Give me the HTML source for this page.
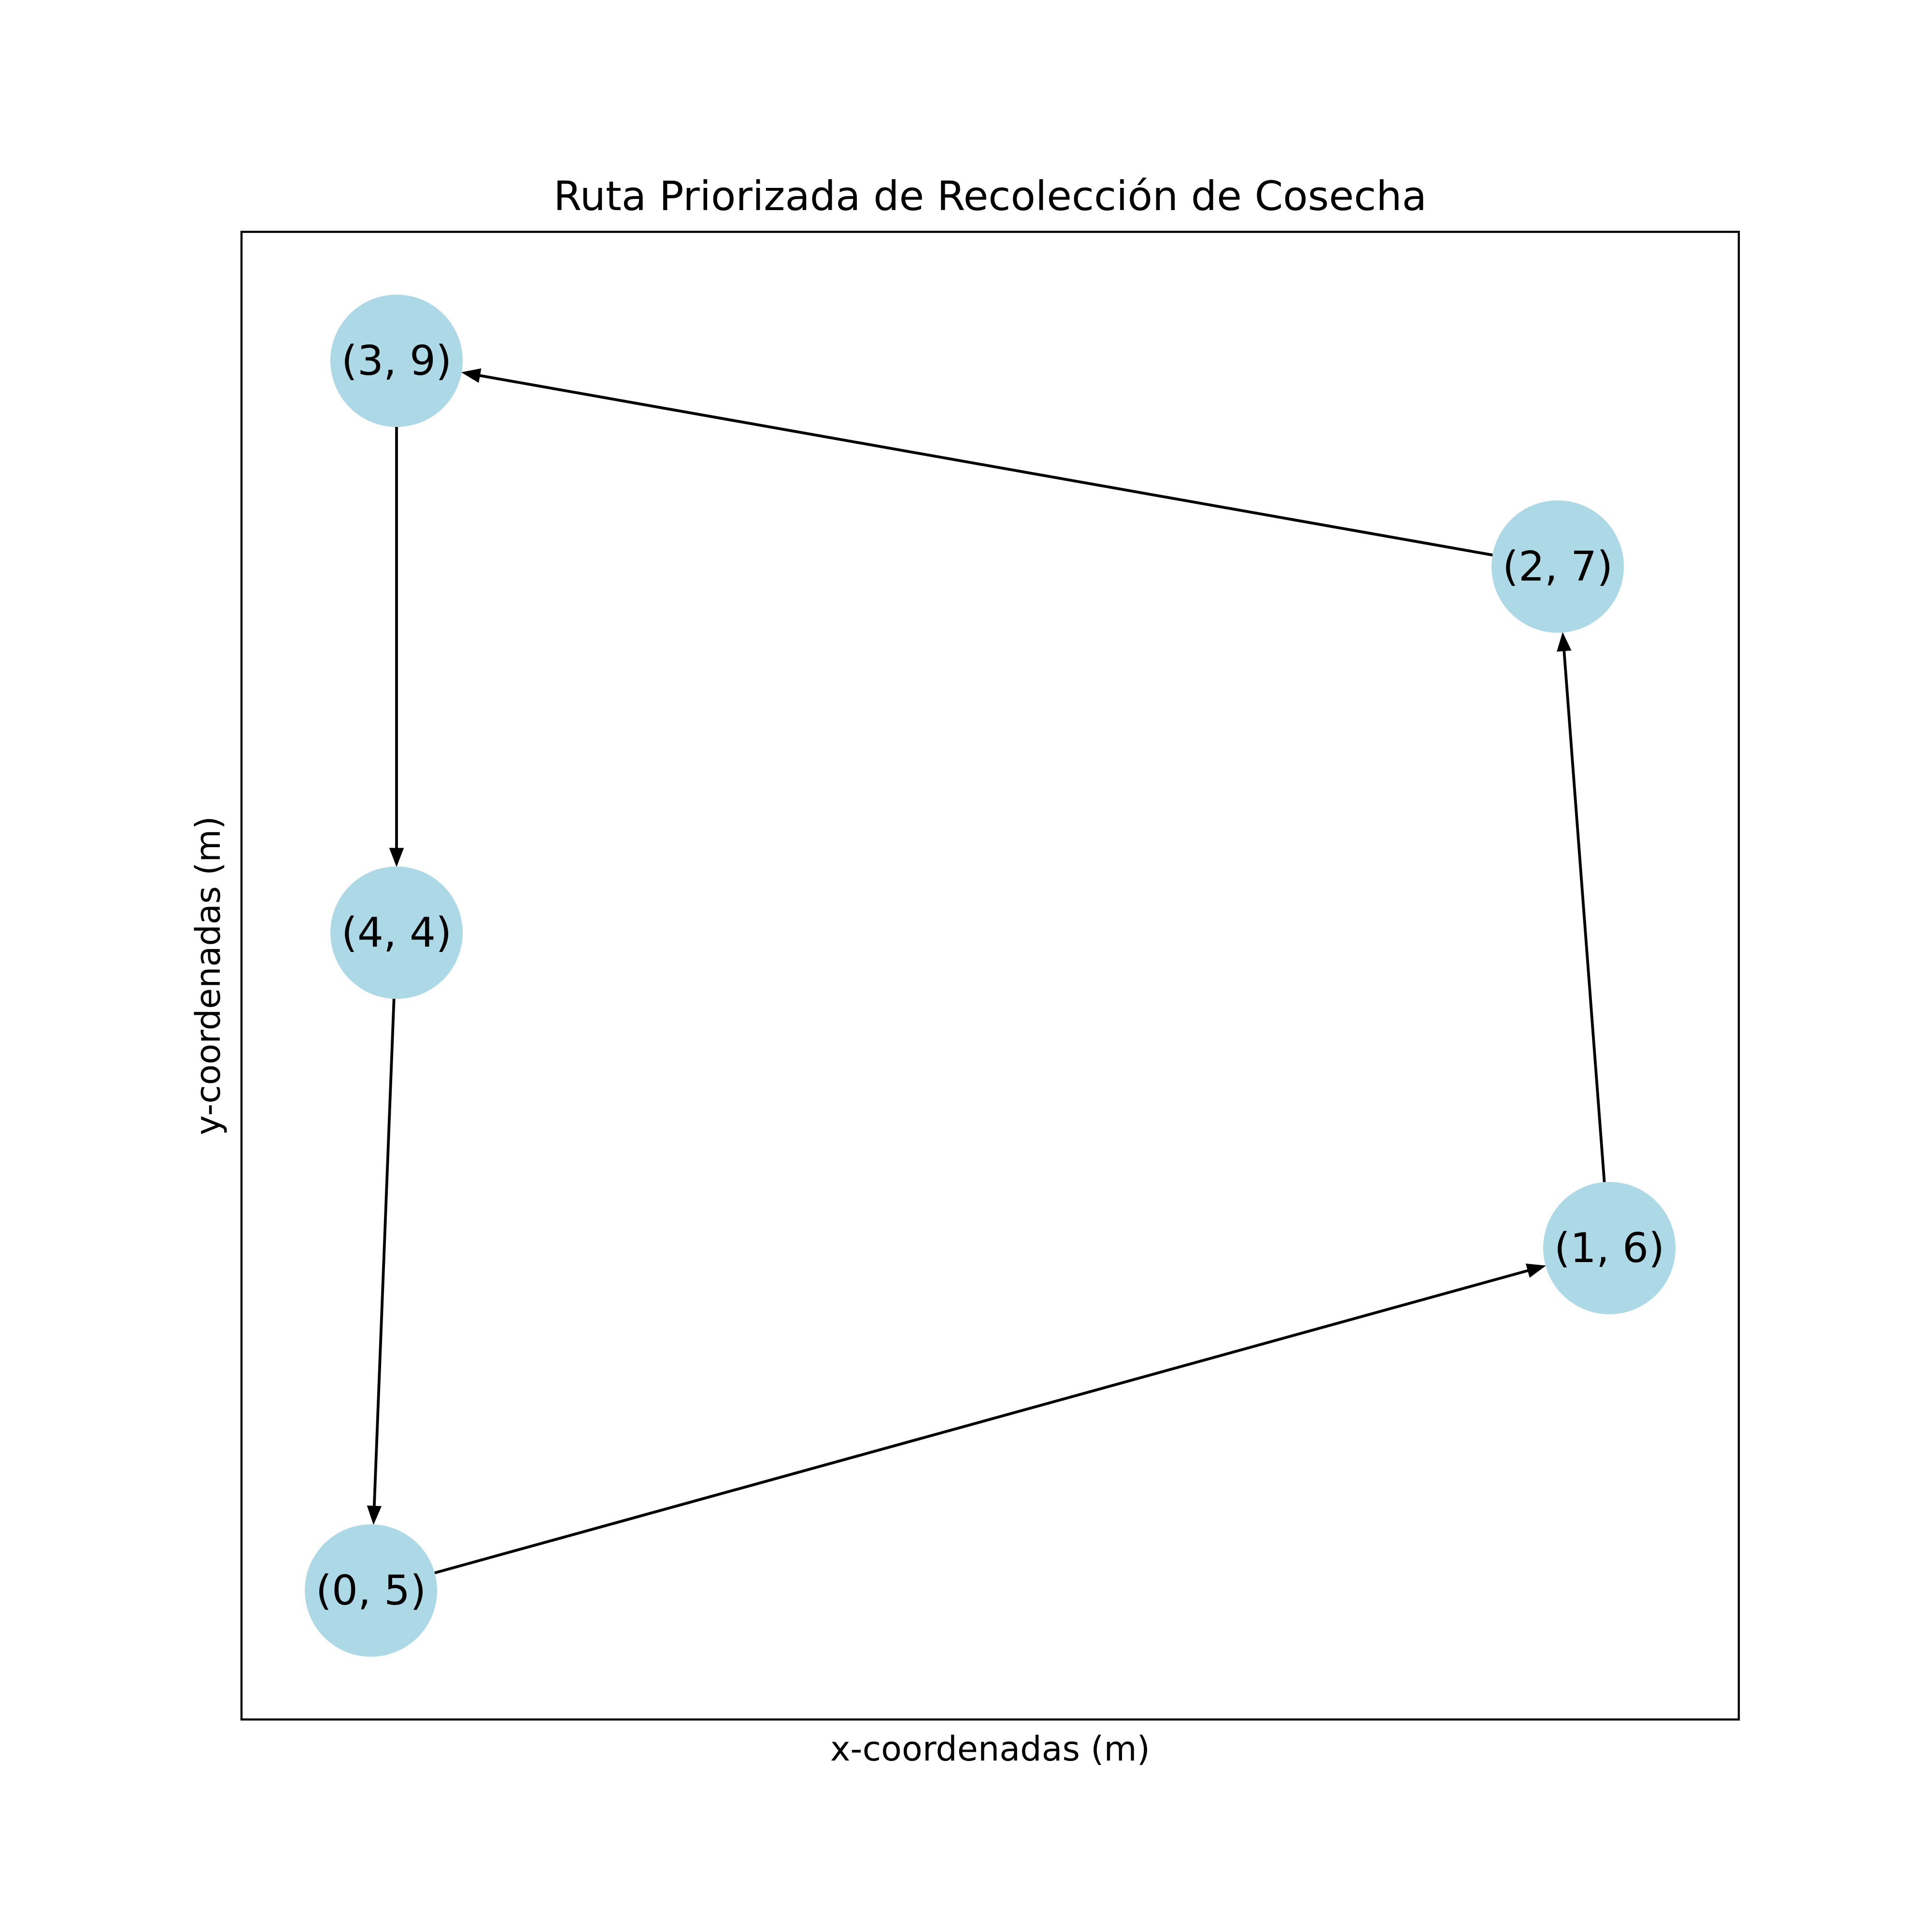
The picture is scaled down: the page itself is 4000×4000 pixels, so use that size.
<!DOCTYPE html>
<html><head><meta charset="utf-8"><style>
html,body{margin:0;padding:0;background:#fff;}
svg{display:block;}
text{font-family:"DejaVu Sans","Liberation Sans",sans-serif;fill:#000;}
</style></head><body>
<svg id="s" width="4000" height="4000" viewBox="0 0 4000 4000" xmlns="http://www.w3.org/2000/svg">
<rect width="4000" height="4000" fill="#fff"/>
<rect x="500" y="480" width="3100" height="3080" fill="none" stroke="#000" stroke-width="4.4"/>
<text x="2050" y="435" font-size="84" text-anchor="middle">Ruta Priorizada de Recolección de Cosecha</text>
<text x="2050" y="3645" font-size="70" text-anchor="middle">x-coordenadas (m)</text>
<text x="455" y="2020" font-size="70" text-anchor="middle" transform="rotate(-90 455 2020)">y-coordenadas (m)</text>
<g id="edges"></g>
<g id="nodes">
<circle cx="821" cy="747" r="137" fill="#add8e6"/>
<circle cx="3225" cy="1173" r="137" fill="#add8e6"/>
<circle cx="821" cy="1931" r="137" fill="#add8e6"/>
<circle cx="3332" cy="2584" r="137" fill="#add8e6"/>
<circle cx="768" cy="3293" r="137" fill="#add8e6"/>
</g>
<g font-size="85" text-anchor="middle">
<text x="821" y="776">(3, 9)</text>
<text x="3225" y="1202">(2, 7)</text>
<text x="821" y="1960">(4, 4)</text>
<text x="3332" y="2613">(1, 6)</text>
<text x="768" y="3322">(0, 5)</text>
</g>
</svg>
<script>
var N={a:[821,747],b:[3225,1173],c:[821,1931],d:[3332,2584],e:[768,3293]};
var E=[["b","a"],["a","c"],["c","e"],["e","d"],["d","b"]];
var g=document.getElementById("edges"),r=137,L=34,W=13,h="";
E.forEach(function(p){var s=N[p[0]],t=N[p[1]];var dx=t[0]-s[0],dy=t[1]-s[1],d=Math.hypot(dx,dy),ux=dx/d,uy=dy/d;
var x1=s[0]+ux*r,y1=s[1]+uy*r,x2=t[0]-ux*(r+3),y2=t[1]-uy*(r+3);
var bx=x2-ux*L,by=y2-uy*L;
h+='<line x1="'+x1+'" y1="'+y1+'" x2="'+bx+'" y2="'+by+'" stroke="#000" stroke-width="5.8"/>';
h+='<polygon points="'+x2+','+y2+' '+(bx-uy*W)+','+(by+ux*W)+' '+(bx+uy*W)+','+(by-ux*W)+'" fill="#000" stroke="#000" stroke-width="3"/>';});
g.innerHTML=h;
</script>
</body></html>
